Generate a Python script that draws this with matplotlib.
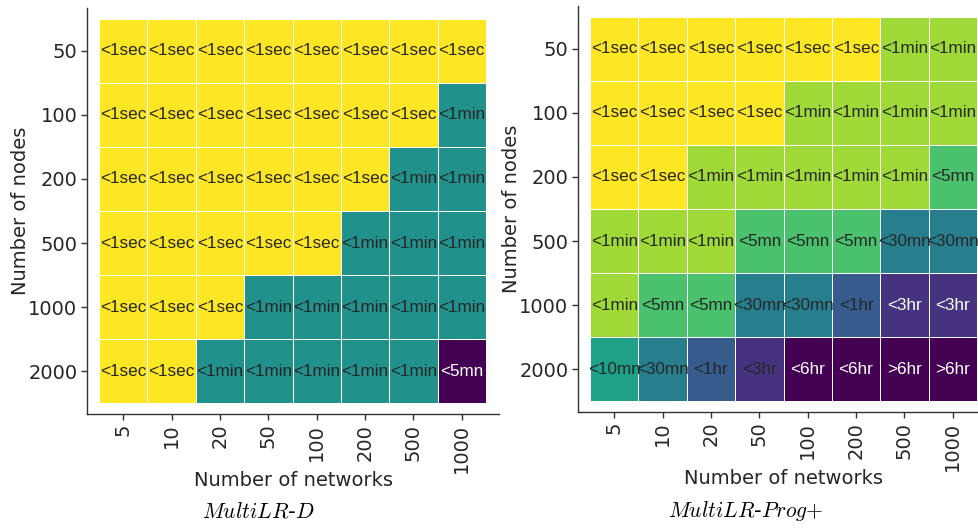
import numpy as np
import matplotlib
matplotlib.use("Agg")
import matplotlib.pyplot as plt

# =====================================================
# Data
# =====================================================

networks=[5,10,20,50,100,200,500,1000]
nodes=[50,100,200,500,1000,2000]

labels_d=[
    ["<1sec","<1sec","<1sec","<1sec","<1sec","<1sec","<1sec","<1sec"],
    ["<1sec","<1sec","<1sec","<1sec","<1sec","<1sec","<1sec","<1min"],
    ["<1sec","<1sec","<1sec","<1sec","<1sec","<1sec","<1min","<1min"],
    ["<1sec","<1sec","<1sec","<1sec","<1sec","<1min","<1min","<1min"],
    ["<1sec","<1sec","<1sec","<1min","<1min","<1min","<1min","<1min"],
    ["<1sec","<1sec","<1min","<1min","<1min","<1min","<1min","<5mn"],
]

labels_prog=[
    ["<1sec","<1sec","<1sec","<1sec","<1sec","<1sec","<1min","<1min"],
    ["<1sec","<1sec","<1sec","<1sec","<1min","<1min","<1min","<1min"],
    ["<1sec","<1sec","<1min","<1min","<1min","<1min","<1min","<5mn"],
    ["<1min","<1min","<1min","<5mn","<5mn","<5mn","<30mn","<30mn"],
    ["<1min","<5mn","<5mn","<30mn","<30mn","<1hr","<3hr","<3hr"],
    ["<10mn","<30mn","<1hr","<3hr","<6hr","<6hr",">6hr",">6hr"],
]

# ordinal code of each time class (slow -> fast)
codes_d={"<5mn":0,"<1min":1,"<1sec":2}
codes_prog={">6hr":0,"<6hr":0,"<3hr":1,"<1hr":2,"<30mn":3,"<10mn":4,"<5mn":5,"<1min":6,"<1sec":7}

# cells with white annotation text (row, col)
white_d=[(5,7)]
white_prog=[(4,6),(4,7),(5,4),(5,5),(5,6),(5,7)]

# =====================================================
# Helper
# =====================================================

def draw_panel(ax,labels,codes,white):

    vals=np.array([[codes[s] for s in row] for row in labels],dtype=float)
    vals=vals/vals.max()

    ax.pcolormesh(
        np.arange(len(networks)+1)-0.5,
        np.arange(len(nodes)+1)-0.5,
        vals,
        cmap="viridis",
        vmin=0,
        vmax=1,
        edgecolors="white",
        linewidth=0.6
    )

    for i in range(len(nodes)):
        for j in range(len(networks)):
            col="white" if (i,j) in white else "#262626"
            ax.text(
                j,
                i,
                labels[i][j],
                ha="center",
                va="center",
                fontsize=12.3,
                family="Liberation Sans",
                color=col
            )

    ax.set_xlim(-0.75,7.77)
    ax.set_ylim(5.67,-0.67)

    ax.set_xticks(range(len(networks)))
    ax.set_xticklabels([str(n) for n in networks],rotation=90)
    ax.set_yticks(range(len(nodes)))
    ax.set_yticklabels([str(n) for n in nodes])

    ax.tick_params(
        labelsize=14,
        length=4,
        width=1,
        color="#333333",
        labelcolor="#262626",
        pad=3
    )

    for s in ["top","right"]:
        ax.spines[s].set_visible(False)
    for s in ["left","bottom"]:
        ax.spines[s].set_color("#333333")
        ax.spines[s].set_linewidth(1)

    ax.set_xlabel("Number of networks",fontsize=14,color="#262626",labelpad=-1.5)
    ax.set_ylabel("Number of nodes",fontsize=14,color="#262626",labelpad=-1)


plt.rcParams["mathtext.fontset"]="cm"

fig=plt.figure(figsize=(9.79,5.29),dpi=100)

ax1=fig.add_axes([87/979,1-414/529,412/979,406/529])
ax2=fig.add_axes([578/979,1-412/529,412/979,406/529])

draw_panel(ax1,labels_d,codes_d,white_d)
draw_panel(ax2,labels_prog,codes_prog,white_prog)

fig.text(258/979,1-511/529,r"$MultiLR$-$D$",ha="center",va="center",fontsize=15.5)
fig.text(746/979,1-511/529,r"$MultiLR$-$Prog{+}$",ha="center",va="center",fontsize=15.5)

fig.savefig("out.png",dpi=100)

print("Saved: out.png")
